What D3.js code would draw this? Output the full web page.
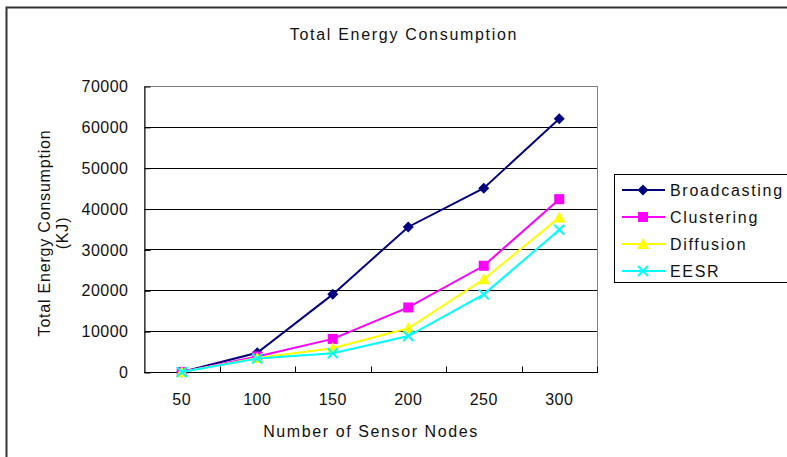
<!DOCTYPE html>
<html>
<head>
<meta charset="utf-8">
<script src="https://cdn.jsdelivr.net/npm/d3@7"></script>
<style>
  body { margin: 0; background: #fff; }
  svg { display: block; font-family: "Liberation Sans", Arial, sans-serif; }
  text { fill: #111; }
</style>
</head>
<body>
<svg id="chart" width="787" height="457"></svg>
<script>
var nodeCounts = ["50", "100", "150", "200", "250", "300"];
var broadcasting = [0, 4700, 19000, 35500, 45000, 62000];
var clustering = [0, 3800, 8100, 15800, 26000, 42300];
var diffusion = [0, 3400, 5800, 10700, 22700, 37800];
var eesr = [0, 3300, 4600, 8800, 19000, 34800];
var yTicks = [0, 10000, 20000, 30000, 40000, 50000, 60000, 70000];

var series = [
  { name: "Broadcasting", values: broadcasting, color: "#000080", marker: "diamond" },
  { name: "Clustering", values: clustering, color: "#ff00ff", marker: "square" },
  { name: "Diffusion", values: diffusion, color: "#ffff00", marker: "triangle" },
  { name: "EESR", values: eesr, color: "#00ffff", marker: "cross" }
];

var svg = d3.select("#chart");
var plotLeft = 144, plotRight = 597, plotTop = 86, plotBottom = 372;

// outer frame of the chart object
svg.append("rect")
  .attr("x", 6.5).attr("y", 7.5)
  .attr("width", 800).attr("height", 470)
  .attr("fill", "none").attr("stroke", "#333").attr("stroke-width", 2);

var x = d3.scaleBand().domain(nodeCounts).range([plotLeft, plotRight]);
var y = d3.scaleLinear().domain([0, 70000]).range([plotBottom, plotTop]);

// gridlines
svg.append("g").selectAll("line")
  .data(yTicks.slice(1, -1))
  .enter().append("line")
  .attr("x1", plotLeft).attr("x2", plotRight)
  .attr("y1", function (d) { return Math.round(y(d)) + 0.5; })
  .attr("y2", function (d) { return Math.round(y(d)) + 0.5; })
  .attr("stroke", "#000").attr("stroke-width", 1);

// plot border (grey top/right)
svg.append("rect")
  .attr("x", plotLeft + 0.5).attr("y", plotTop + 0.5)
  .attr("width", plotRight - plotLeft).attr("height", plotBottom - plotTop)
  .attr("fill", "none").attr("stroke", "#808080").attr("stroke-width", 1);

// axes with inside ticks
var yAxis = d3.axisLeft(y).tickValues(yTicks).tickSizeInner(-6).tickSizeOuter(0)
  .tickFormat(d3.format("d")).tickPadding(16);
var gy = svg.append("g").attr("transform", "translate(" + (plotLeft + 0.5) + ",0.5)").call(yAxis);
gy.select(".domain").attr("stroke", "#000");
gy.selectAll(".tick line").attr("stroke", "#000");
gy.selectAll("text").attr("font-size", 16).attr("fill", "#111").attr("letter-spacing", 0.5)
  .attr("font-family", "Liberation Sans, Arial, sans-serif");

var xEdges = d3.scaleLinear().domain([0, nodeCounts.length]).range([plotLeft, plotRight]);
var gx = svg.append("g").attr("transform", "translate(0," + (plotBottom + 0.5) + ")");
gx.append("line").attr("x1", plotLeft).attr("x2", plotRight + 1).attr("stroke", "#000");
gx.selectAll(".tk").data(d3.range(1, nodeCounts.length + 1)).enter().append("line")
  .attr("x1", function (i) { return Math.round(xEdges(i)) + 0.5; })
  .attr("x2", function (i) { return Math.round(xEdges(i)) + 0.5; })
  .attr("y1", 0).attr("y2", -6).attr("stroke", "#000");
gx.selectAll("text").data(nodeCounts).enter().append("text")
  .attr("x", function (d) { return x(d) + x.bandwidth() / 2; })
  .attr("y", 32)
  .attr("text-anchor", "middle").attr("font-size", 16).attr("letter-spacing", 0.5)
  .text(function (d) { return d; });

// titles
svg.append("text").attr("x", 404).attr("y", 40).attr("text-anchor", "middle")
  .attr("font-size", 16).attr("letter-spacing", 1.7).text("Total Energy Consumption");
svg.append("text").attr("x", 371).attr("y", 437).attr("text-anchor", "middle")
  .attr("font-size", 16).attr("letter-spacing", 1.6).text("Number of Sensor Nodes");
var yt = svg.append("text").attr("transform", "translate(50,233) rotate(-90)")
  .attr("text-anchor", "middle").attr("font-size", 16).attr("letter-spacing", 0.8);
yt.append("tspan").attr("x", 0).attr("dy", 0).text("Total Energy Consumption");
yt.append("tspan").attr("x", 0).attr("dy", 18).text("(KJ)");

function drawMarker(g, type, color) {
  if (type === "diamond") {
    g.append("path").attr("d", "M0,-5.5L5.5,0L0,5.5L-5.5,0Z").attr("fill", color);
  } else if (type === "square") {
    g.append("rect").attr("x", -5).attr("y", -5).attr("width", 10).attr("height", 10).attr("fill", color);
  } else if (type === "triangle") {
    g.append("path").attr("d", "M0,-6L6,5L-6,5Z").attr("fill", color);
  } else {
    g.append("path").attr("d", "M-5,-5L5,5M5,-5L-5,5").attr("stroke", color).attr("stroke-width", 2);
  }
}

var line = d3.line()
  .x(function (d, i) { return x(nodeCounts[i]) + x.bandwidth() / 2; })
  .y(function (d) { return y(d); });

series.forEach(function (s) {
  svg.append("path").datum(s.values).attr("d", line)
    .attr("fill", "none").attr("stroke", s.color).attr("stroke-width", 2);
  s.values.forEach(function (v, i) {
    var g = svg.append("g").attr("transform", "translate(" + (x(nodeCounts[i]) + x.bandwidth() / 2) + "," + y(v) + ")");
    drawMarker(g, s.marker, s.color);
  });
});

// legend
var lg = svg.append("g");
lg.append("rect").attr("x", 614.5).attr("y", 174.5).attr("width", 185).attr("height", 108)
  .attr("fill", "#fff").attr("stroke", "#000").attr("stroke-width", 1);
series.forEach(function (s, i) {
  var ly = 190 + i * 27;
  lg.append("line").attr("x1", 622).attr("x2", 665).attr("y1", ly).attr("y2", ly)
    .attr("stroke", s.color).attr("stroke-width", 2);
  drawMarker(lg.append("g").attr("transform", "translate(643," + ly + ")"), s.marker, s.color);
  lg.append("text").attr("x", 670).attr("y", ly + 6).attr("font-size", 16)
    .attr("letter-spacing", 1.7).text(s.name);
});
</script>
</body>
</html>
